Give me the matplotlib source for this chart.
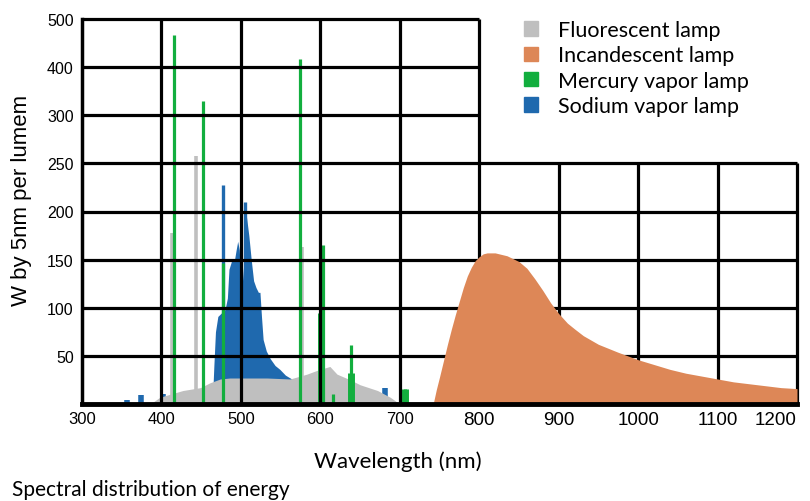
import matplotlib.pyplot as plt
import numpy as np
from matplotlib import font_manager
from matplotlib.patches import Patch

# axis ticks (the y axis is compressed above 300)
x_ticks = [300, 400, 500, 600, 700, 800, 900, 1000, 1100, 1200]
y_ticks = [50, 100, 150, 200, 250, 300, 400, 500]
grid_break_x = 800   # upper grid rows stop here
grid_break_y = 250   # right grid columns stop here

# fluorescent lamp: broad continuum + lines
fluor_nm = [386, 398, 427, 449, 461, 474, 486, 503, 533, 562, 583, 596, 612, 621, 638, 650, 672, 688, 700]
fluor_val = [0, 7, 14, 17, 22, 26, 27, 27, 27, 26, 31, 35, 39, 31, 25, 20, 14, 7, 0]
fluor_line_nm = [413, 444, 577]
fluor_line_val = [178, 258, 163]

# sodium vapor lamp
sodium_nm = [464, 466, 468, 471, 476, 480, 483, 485, 488, 492, 494, 496, 498, 500, 502, 504, 507,
             510, 513, 516, 519, 522, 524, 526, 528, 532, 537, 543, 549, 556, 564, 566]
sodium_val = [0, 40, 75, 91, 95, 98, 110, 140, 148, 150, 160, 169, 160, 124, 128, 150, 195,
              175, 150, 128, 121, 116, 116, 90, 67, 55, 47, 40, 36, 30, 26, 0]
sodium_line_nm = [478, 505]
sodium_line_val = [228, 210]
sodium_bump_nm = [357, 374, 402, 682]
sodium_bump_val = [4, 9, 10, 17]

# mercury vapor lamp
mercury_nm = [416, 452, 478, 575, 603, 616, 638, 707]
mercury_val = [467, 330, 146, 417, 165, 10, 61, 16]
mercury_base_nm = [601, 638, 707]
mercury_base_val = [95, 32, 16]

# incandescent lamp
inc_nm = [742, 746, 750, 755, 760, 765, 770, 775, 780, 785, 790, 795, 800, 805, 810, 815, 820,
          825, 830, 835, 840, 845, 850, 860, 870, 880, 890, 900, 911, 920, 931, 950, 974,
          1000, 1020, 1040, 1060, 1080, 1100, 1120, 1140, 1160, 1180, 1200]
inc_val = [0, 15, 28, 45, 62, 78, 93, 107, 121, 133, 142, 149, 153, 156, 157, 157, 157,
           156, 155, 154, 152, 150, 148, 141, 130, 118, 105, 94, 84, 78, 71, 62, 54,
           46, 41, 36, 32, 29, 26, 23, 21, 19, 17, 16]

labels = ["Fluorescent lamp", "Incandescent lamp", "Mercury vapor lamp", "Sodium vapor lamp"]
c_fluor, c_inc, c_merc, c_sod = "#BFBFBF", "#DD8757", "#12AE3E", "#1F69AE"

installed = {f.name for f in font_manager.fontManager.ttflist}
narrow = "Liberation Sans Narrow" if "Liberation Sans Narrow" in installed else "Liberation Sans"


def fwd(y):
    y = np.asarray(y, dtype=float)
    return np.where(y <= 300, y / 50, 6 + (y - 300) / 100)


def inv(t):
    t = np.asarray(t, dtype=float)
    return np.where(t <= 6, t * 50, 300 + (t - 6) * 100)


fig = plt.figure(figsize=(8.1, 5.02), dpi=100)
ax = fig.add_axes([82 / 810, 1 - 405 / 502, 715 / 810, 385 / 502])
ax.set_yscale("function", functions=(fwd, inv))
ax.set_xlim(300, 1200)
ax.set_ylim(0, 500)

# spectra
ax.fill_between(sodium_nm, 0, sodium_val, color=c_sod, lw=0, zorder=1)
ax.vlines(sodium_line_nm, 0, sodium_line_val, color=c_sod, lw=2.4, zorder=1)
ax.vlines(sodium_bump_nm, 0, sodium_bump_val, color=c_sod, lw=4, zorder=1)
ax.fill_between(fluor_nm, 0, fluor_val, color=c_fluor, lw=0, zorder=1.2)
ax.vlines(fluor_line_nm, 0, fluor_line_val, color=c_fluor, lw=2.6, zorder=1.2)
ax.vlines(mercury_base_nm, 0, mercury_base_val, color=c_merc, lw=5, zorder=1.5)
ax.vlines(mercury_nm, 0, mercury_val, color=c_merc, lw=2.3, zorder=1.5)

# grid (drawn over the line spectra)
gkw = dict(color="black", lw=2.3, zorder=3, clip_on=False)
for y in y_ticks:
    ax.hlines(y, 300, grid_break_x if y > grid_break_y else 1200, **gkw)
for x in x_ticks[1:]:
    ax.vlines(x, 0, 500 if x <= grid_break_x else grid_break_y, **gkw)

ax.fill_between(inc_nm, 0, inc_val, color=c_inc, lw=0, zorder=4)

for s in ["top", "right"]:
    ax.spines[s].set_visible(False)
ax.spines["left"].set_linewidth(2.5)
ax.spines["bottom"].set_linewidth(3.5)
ax.spines["left"].set_zorder(5)
ax.spines["bottom"].set_zorder(5)

ax.set_xticks(x_ticks)
ax.set_yticks(y_ticks)
ax.set_yticklabels([str(v) for v in y_ticks], fontsize=11.5, family="Liberation Sans")
ax.set_xticklabels([str(v) for v in x_ticks])
for lbl, v in zip(ax.get_xticklabels(), x_ticks):
    if v >= 800:
        lbl.set_fontsize(13.5)
        lbl.set_family("Liberation Sans")
    else:
        lbl.set_fontsize(12)
        lbl.set_family(narrow)
ax.get_xticklabels()[-1].set_horizontalalignment("right")
ax.tick_params(axis="x", length=0, pad=5)
ax.tick_params(axis="y", length=0, pad=6)
ax.minorticks_off()

fig.text(22 / 810, 1 - 200 / 502, "W by 5nm per lumem", rotation=90, ha="center", va="center",
         fontsize=16, family="Liberation Sans")
fig.text(398 / 810, 1 - 462 / 502, "Wavelength (nm)", ha="center", va="center",
         fontsize=16, family="Lato")
fig.text(12 / 810, 1 - 490 / 502, "Spectral distribution of energy", ha="left", va="center",
         fontsize=15, family="Lato")

handles = [Patch(color=c) for c in [c_fluor, c_inc, c_merc, c_sod]]
fig.legend(handles, labels, loc="upper left", bbox_to_anchor=(524 / 810, 1 - 21 / 502),
           frameon=False, prop={"family": "Lato", "size": 15.5}, handlelength=0.65,
           handleheight=0.65, handletextpad=0.95, labelspacing=0.25, borderaxespad=0,
           borderpad=0)

fig.savefig("out.png", dpi=100)
